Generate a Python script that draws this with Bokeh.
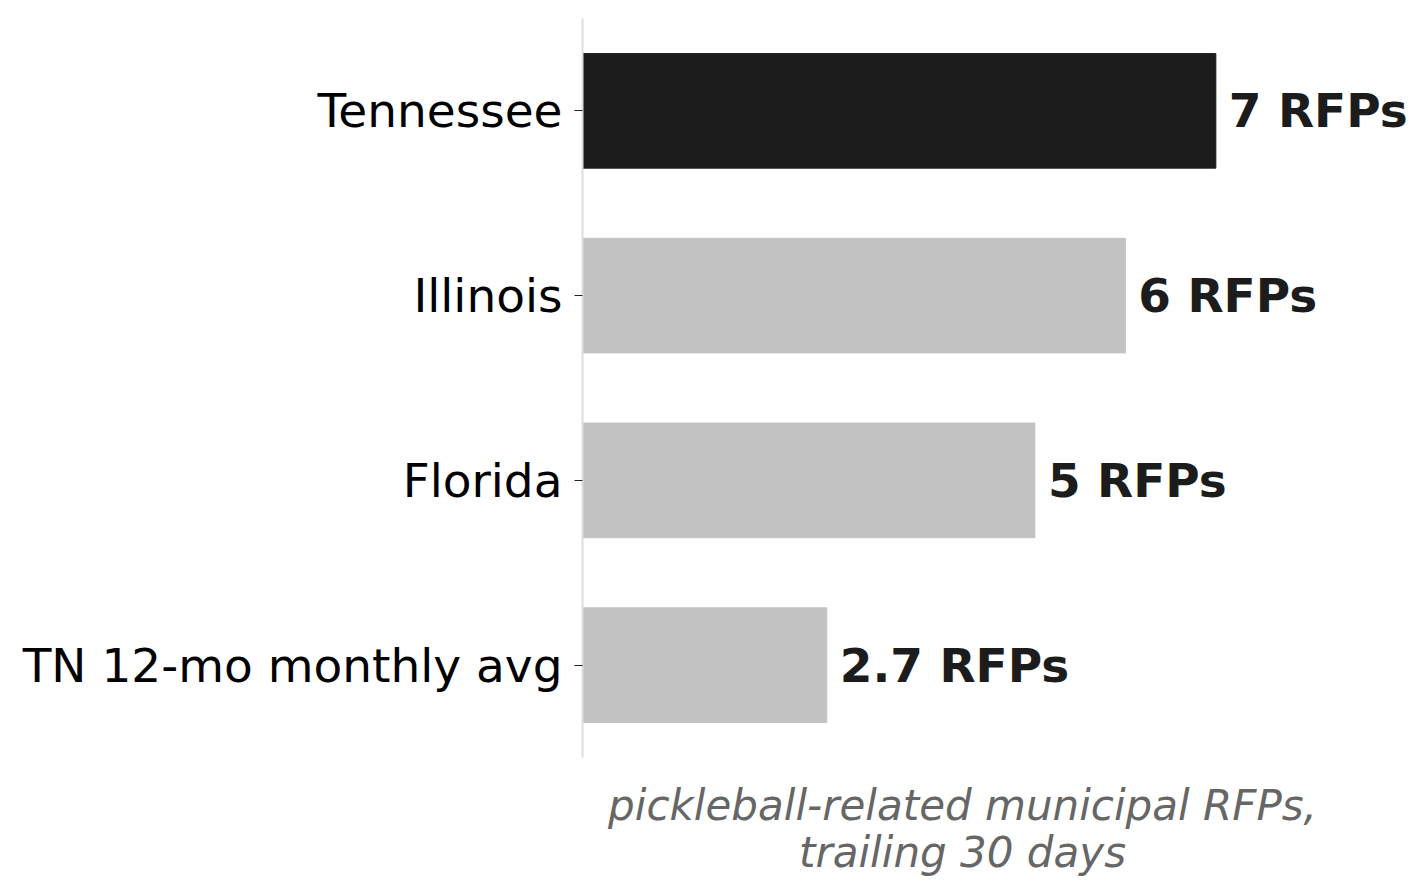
from bokeh.plotting import figure
from bokeh.models import ColumnDataSource, FactorRange, Range1d, FixedTicker
from bokeh.core.properties import value
from bokeh.embed import file_html
from bokeh.resources import INLINE

# bottom-to-top order, as drawn
categories = ["TN 12-mo monthly avg", "Florida", "Illinois", "Tennessee"]
rfps = [2.7, 5, 6, 7]
bar_colors = ["#c2c2c2", "#c2c2c2", "#c2c2c2", "#1c1c1c"]
labels = ["%g RFPs" % v for v in rfps]
caption = "pickleball-related municipal RFPs,\ntrailing 30 days"
x_max = 8.4  # visible axis span in the reference

source = ColumnDataSource(data=dict(cat=categories, val=rfps, color=bar_colors, label=labels))

# frame runs to the right edge so the value labels are not clipped;
# the 0..8.4 span is 760px, so 830px is about 0..9.17
p = figure(
    frame_width=830, frame_height=739,
    y_range=FactorRange(*categories, range_padding=0),
    x_range=Range1d(0, x_max * 830 / 760),
    output_backend="svg", toolbar_location=None,
    min_border_left=582, min_border_right=0,
    min_border_top=18, min_border_bottom=0,
)

p.hbar(y="cat", right="val", left=0, height=0.62, color="color", source=source)
p.text(x="val", y="cat", text="label", source=source, x_offset=13,
       text_baseline="middle", text_font=value("DejaVu Sans"), text_font_style="bold",
       text_font_size="47px", text_color="#1c1c1c")

p.grid.visible = False
p.outline_line_color = None

# y axis: light spine, small dark ticks
p.yaxis.axis_line_color = "#dddddd"
p.yaxis.axis_line_width = 2
p.yaxis.major_tick_line_color = "#222222"
p.yaxis.major_tick_in = 0
p.yaxis.major_tick_out = 8
p.yaxis.major_label_standoff = 12
p.yaxis.major_label_text_font = "DejaVu Sans"
p.yaxis.major_label_text_font_size = "47px"
p.yaxis.major_label_text_color = "black"

# x axis: no line or ticks; its single label is the caption, centred on 0..8.4
mid = x_max / 2
p.xaxis.ticker = FixedTicker(ticks=[mid])
p.xaxis.major_label_overrides = {mid: caption}
p.xaxis.axis_line_color = None
p.xaxis.major_tick_line_color = None
p.xaxis.minor_tick_line_color = None
p.xaxis.major_label_standoff = 17
p.xaxis.major_label_text_font = "DejaVu Sans"
p.xaxis.major_label_text_font_style = "italic"
p.xaxis.major_label_text_font_size = "42px"
p.xaxis.major_label_text_line_height = 0.97
p.xaxis.major_label_text_color = "#666666"

open("out.html", "w").write(file_html(p, INLINE))
